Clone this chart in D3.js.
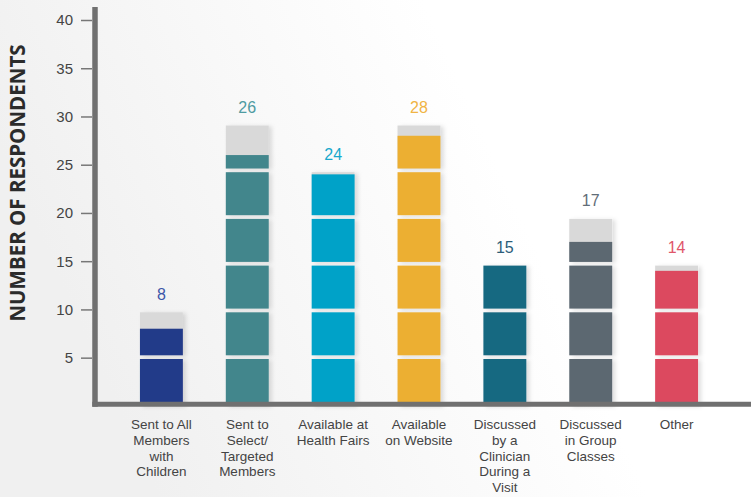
<!DOCTYPE html>
<html>
<head>
<meta charset="utf-8">
<script src="https://cdn.jsdelivr.net/npm/d3@7"></script>
<style>
  html, body { margin: 0; padding: 0; background: #ffffff; }
  svg { display: block; }
</style>
</head>
<body>
<svg id="chart" width="751" height="497"></svg>
<script>
// ---- data ----
const categories = [
  "Sent to All Members with Children",
  "Sent to Select/ Targeted Members",
  "Available at Health Fairs",
  "Available on Website",
  "Discussed by a Clinician During a Visit",
  "Discussed in Group Classes",
  "Other"
];
const categoryLines = [
  ["Sent to All", "Members", "with", "Children"],
  ["Sent to", "Select/", "Targeted", "Members"],
  ["Available at", "Health Fairs"],
  ["Available", "on Website"],
  ["Discussed", "by a", "Clinician", "During a", "Visit"],
  ["Discussed", "in Group", "Classes"],
  ["Other"]
];
const respondents = [8, 26, 24, 28, 15, 17, 14];
const barColors = ["#243a89", "#43868c", "#00a2c8", "#ecaf33", "#176981", "#5b6771", "#dc4a5f"];
const labelColors = ["#3d56a8", "#4f9ba1", "#18a8cc", "#f0b444", "#2c5d79", "#626d77", "#e0566a"];
const yTicks = [5, 10, 15, 20, 25, 30, 35, 40];
const yTitle = "NUMBER OF RESPONDENTS";
const blockSize = 5;

// ---- layout ----
const W = 751, H = 497;
const svg = d3.select("#chart");

const defs = svg.append("defs");
const bg = defs.append("linearGradient").attr("id", "bg")
  .attr("x1", "0%").attr("y1", "30%").attr("x2", "100%").attr("y2", "0%");
bg.append("stop").attr("offset", "0%").attr("stop-color", "#f0f0f0");
bg.append("stop").attr("offset", "35%").attr("stop-color", "#f9f9f9");
bg.append("stop").attr("offset", "60%").attr("stop-color", "#ffffff");
bg.append("stop").attr("offset", "100%").attr("stop-color", "#ffffff");

const sh = defs.append("filter").attr("id", "shadow")
  .attr("x", "-20%").attr("y", "-5%").attr("width", "150%").attr("height", "115%");
sh.append("feDropShadow").attr("dx", 3).attr("dy", 1).attr("stdDeviation", 2.2)
  .attr("flood-color", "#000").attr("flood-opacity", 0.13);

svg.append("rect").attr("width", W).attr("height", H).attr("fill", "url(#bg)");

// scales
const x = d3.scaleBand().domain(categories).range([97, 741]).paddingInner(0.5).paddingOuter(0.5);
const y = d3.scaleLinear().domain([0, 40]).range([405.9, 20]);           // axis scale
const yBar = d3.scaleLinear().domain([0, 30]).range([405.7, 125.5]);     // pictograph block grid
const gap = 3.7;

// bars as stacked blocks of 5
const bars = svg.append("g").attr("class", "bars");
respondents.forEach((v, i) => {
  const g = bars.append("g").attr("filter", "url(#shadow)");
  const nBlocks = Math.ceil(v / blockSize);
  for (let k = 1; k <= nBlocks; k++) {
    const lo = (k - 1) * blockSize, hi = k * blockSize;
    const bottom = k === 1 ? yBar(lo) : yBar(lo) - gap;
    const blockTop = yBar(hi);
    if (v < hi) {
      g.append("rect")
        .attr("x", x(categories[i])).attr("width", x.bandwidth())
        .attr("y", blockTop).attr("height", bottom - blockTop)
        .attr("fill", "#d9d9d9");
    }
    const top = v < hi ? Math.min(bottom, Math.max(y(v), blockTop)) : blockTop;
    g.append("rect")
      .attr("x", x(categories[i])).attr("width", x.bandwidth())
      .attr("y", top).attr("height", bottom - top)
      .attr("fill", barColors[i]);
  }
  svg.append("text")
    .attr("x", x(categories[i]) + x.bandwidth() / 2)
    .attr("y", yBar(nBlocks * blockSize) - 12.5)
    .attr("text-anchor", "middle")
    .attr("font-family", "'Liberation Sans', Arial, sans-serif")
    .attr("font-size", 16)
    .attr("fill", labelColors[i])
    .text(v);
});

// y axis
const axisX = 92;
const yAxis = svg.append("g").attr("transform", `translate(${axisX},0)`)
  .call(d3.axisLeft(y).tickValues(yTicks).tickSize(11).tickPadding(8));
yAxis.select(".domain").remove();
yAxis.selectAll(".tick line").attr("stroke", "#777").attr("stroke-width", 1.5);
yAxis.selectAll(".tick text")
  .attr("font-family", "'Liberation Sans', Arial, sans-serif")
  .attr("font-size", 15).attr("fill", "#444");

// axis lines (thick)
svg.append("line").attr("x1", 95).attr("x2", 95).attr("y1", 7).attr("y2", y(0) + 0.8)
  .attr("stroke", "#707070").attr("stroke-width", 5.5);
svg.append("line").attr("x1", 92.3).attr("x2", W).attr("y1", y(0) - 1.7).attr("y2", y(0) - 1.7)
  .attr("stroke", "#707070").attr("stroke-width", 5);

// x labels
const xl = svg.append("g");
categoryLines.forEach((lines, i) => {
  const t = xl.append("text")
    .attr("x", x(categories[i]) + x.bandwidth() / 2)
    .attr("y", 429)
    .attr("text-anchor", "middle")
    .attr("font-family", "'Liberation Sans', Arial, sans-serif")
    .attr("font-size", 13.5)
    .attr("fill", "#444");
  lines.forEach((ln, j) => {
    t.append("tspan").attr("x", x(categories[i]) + x.bandwidth() / 2)
      .attr("dy", j === 0 ? 0 : 15.8).text(ln);
  });
});

// y title
svg.append("text")
  .attr("transform", `translate(24.5,183) rotate(-90)`)
  .attr("text-anchor", "middle")
  .attr("font-family", "'Open Sans', sans-serif")
  .attr("font-weight", 700)
  .attr("font-size", 20.5)
  .attr("fill", "#2b2b2b")
  .text(yTitle);
</script>
</body>
</html>
